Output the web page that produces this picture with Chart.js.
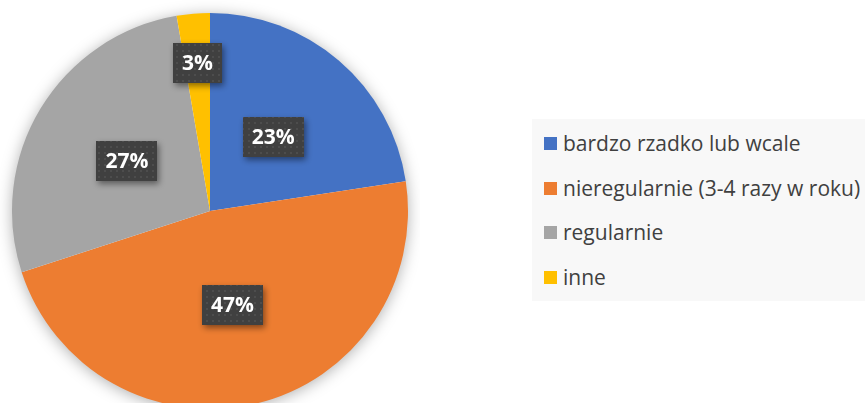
<!DOCTYPE html>
<html>
<head>
<meta charset="utf-8">
<script src="https://cdn.jsdelivr.net/npm/chart.js@4"></script>
<style>
  html, body { margin: 0; padding: 0; background: #fff; }
  body { width: 865px; height: 403px; overflow: hidden; position: relative; font-family: 'Open Sans', sans-serif; }
  #pieWrap { position: absolute; left: 0; top: 0; width: 420px; height: 424px; }
  #legend { position: absolute; left: 532px; top: 119px; width: 340px; height: 182px; background: #f8f8f8; }
  #legend .item { position: absolute; left: 12px; height: 28px; line-height: 28px; font-size: 21px; color: #404040; white-space: nowrap; }
  #legend .sw { position: absolute; left: 0; top: 8px; width: 13px; height: 13px; }
  #legend .txt { position: absolute; left: 19px; top: 0; }
</style>
</head>
<body>
<div id="pieWrap"><canvas id="pieChart"></canvas></div>
<div id="legend"></div>
<script>
// Categories & values (share of respondents, %)
const categories = ['bardzo rzadko lub wcale', 'nieregularnie (3-4 razy w roku)', 'regularnie', 'inne'];
const values = [22.6, 47.4, 27.3, 2.7];
const colors = ['#4472C4', '#ED7D31', '#A5A5A5', '#FFC000'];
// how far out each label sits (fraction of radius)
const labelDist = [0.49, 0.49, 0.49, 0.75];

// HTML legend
const legendEl = document.getElementById('legend');
categories.forEach((c, i) => {
    const it = document.createElement('div');
    it.className = 'item';
    it.style.top = (10 + i * 44.7) + 'px';
    it.innerHTML = '<span class="sw" style="background:' + colors[i] + '"></span><span class="txt"></span>';
    it.querySelector('.txt').textContent = c;
    legendEl.appendChild(it);
});

// dotted pattern for the label boxes
function makePattern(ctx) {
    const p = document.createElement('canvas');
    p.width = 6; p.height = 6;
    const pc = p.getContext('2d');
    pc.fillStyle = '#404040';
    pc.fillRect(0, 0, 6, 6);
    pc.fillStyle = '#4d4d4d';
    pc.fillRect(2, 2, 2, 2);
    return ctx.createPattern(p, 'repeat');
}

// soft shadow under the whole pie
const pieShadow = {
    id: 'pieShadow',
    beforeDatasetsDraw(chart) {
        const arc = chart.getDatasetMeta(0).data[0];
        if (!arc) return;
        const ctx = chart.ctx;
        ctx.save();
        ctx.shadowColor = 'rgba(0,0,0,0.35)';
        ctx.shadowBlur = 16;
        ctx.shadowOffsetX = 0;
        ctx.shadowOffsetY = 2;
        ctx.fillStyle = '#ffffff';
        ctx.beginPath();
        ctx.arc(arc.x, arc.y, arc.outerRadius - 1, 0, Math.PI * 2);
        ctx.fill();
        ctx.restore();
    }
};

// percentage labels in dark boxes
const pctLabels = {
    id: 'pctLabels',
    afterDatasetsDraw(chart) {
        const ctx = chart.ctx;
        const meta = chart.getDatasetMeta(0);
        const total = values.reduce((a, b) => a + b, 0);
        const pat = makePattern(ctx);
        ctx.save();
        ctx.font = 'bold 21px "Open Sans", sans-serif';
        ctx.textAlign = 'center';
        ctx.textBaseline = 'middle';
        meta.data.forEach((arc, i) => {
            const mid = (arc.startAngle + arc.endAngle) / 2;
            const r = arc.outerRadius * labelDist[i];
            const x = arc.x + Math.cos(mid) * r;
            const y = arc.y + Math.sin(mid) * r;
            const txt = Math.round(values[i] / total * 100) + '%';
            const w = ctx.measureText(txt).width + 18;
            const h = 40;
            ctx.save();
            ctx.shadowColor = 'rgba(0,0,0,0.45)';
            ctx.shadowBlur = 6;
            ctx.shadowOffsetX = 2;
            ctx.shadowOffsetY = 3;
            ctx.fillStyle = pat;
            ctx.fillRect(Math.round(x - w / 2), Math.round(y - h / 2), Math.round(w), h);
            ctx.restore();
            ctx.fillStyle = '#ffffff';
            ctx.fillText(txt, x, y + 1);
        });
        ctx.restore();
    }
};

const pieChart = new Chart(document.getElementById('pieChart'), {
    type: 'pie',
    data: {
        labels: categories,
        datasets: [{
            data: values,
            backgroundColor: colors,
            borderWidth: 0
        }]
    },
    options: {
        responsive: true,
        maintainAspectRatio: false,
        animation: false,
        layout: { padding: { top: 13, left: 12, right: 12, bottom: 15 } },
        plugins: {
            legend: { display: false },
            tooltip: { enabled: false }
        }
    },
    plugins: [pieShadow, pctLabels]
});
</script>
</body>
</html>
